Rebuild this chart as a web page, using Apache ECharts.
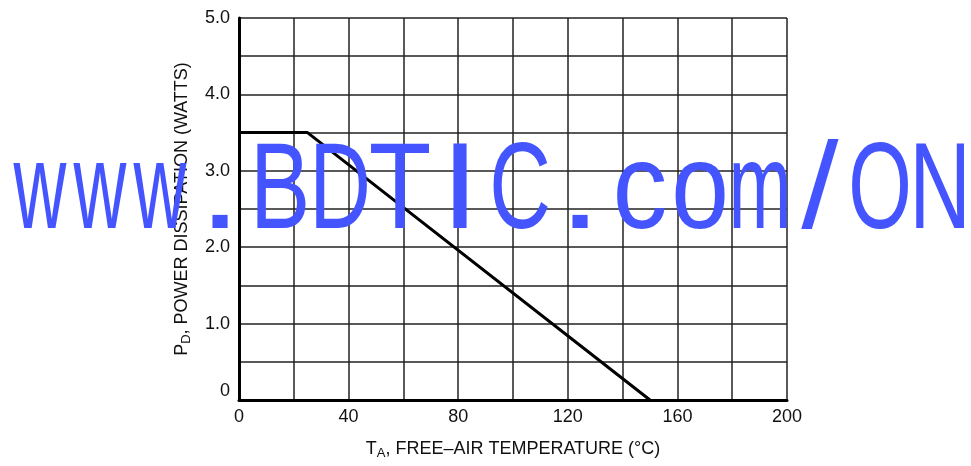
<!DOCTYPE html>
<html>
<head>
<meta charset="utf-8">
<script src="https://cdn.jsdelivr.net/npm/echarts@6/dist/echarts.min.js"></script>
<style>
html,body{margin:0;padding:0;background:#fff;}
#c{width:971px;height:466px;}
</style>
</head>
<body>
<div id="c"></div>
<script>
// ---- data ----
const tempC = [0, 25, 150];          // T_A (°C)
const powerW = [3.5, 3.5, 0];        // P_D (W)
const xLabelValues = [0, 40, 80, 120, 160, 200];
const yLabelValues = [0, 1, 2, 3, 4, 5];
const watermarkText = 'www.BDTIC.com/ON';
const watermarkScale = [0.6, 0.6, 0.6, 1.3, 0.74, 0.7, 0.84, 1.15, 0.7, 1.3, 0.9, 0.85, 0.62, 1.1, 0.67, 0.7];

const FONT = "'Liberation Sans', Arial, sans-serif";
const BLUE = '#4455ff';

const chart = echarts.init(document.getElementById('c'), null, {renderer: 'canvas'});

const wm = [];
for (let i = 0; i < watermarkText.length; i++) {
  wm.push({
    type: 'text',
    x: 40 + 60 * i,
    y: 194,
    scaleX: watermarkScale[i],
    z: 100,
    silent: true,
    style: {
      text: watermarkText[i],
      x: 0, y: 0,
      fill: BLUE,
      fontSize: 122,
      fontFamily: 'Liberation Sans',
      fontWeight: 'normal',
      textAlign: 'center',
      textVerticalAlign: 'middle'
    }
  });
}

const option = {
  animation: false,
  backgroundColor: '#fff',
  grid: {left: 239, right: 184, top: 18, bottom: 66, containLabel: false},
  xAxis: {
    type: 'value',
    min: 0, max: 200, interval: 20,
    name: '{t|T}{s|A}{t|, FREE–AIR TEMPERATURE (°C)}',
    nameLocation: 'middle',
    nameGap: 38,
    nameTextStyle: {
      rich: {
        t: {fontFamily: FONT, fontSize: 18, color: '#111'},
        s: {fontFamily: FONT, fontSize: 13, color: '#111', padding: [9, 0, 0, 0]}
      }
    },
    axisLine: {show: true, lineStyle: {color: '#000', width: 3}},
    axisTick: {show: false},
    splitLine: {show: true, lineStyle: {color: '#222', width: 1.5}},
    axisLabel: {
      margin: 8,
      fontFamily: FONT, fontSize: 18, color: '#111',
      formatter: v => xLabelValues.indexOf(v) >= 0 ? String(v) : ''
    }
  },
  yAxis: {
    type: 'value',
    min: 0, max: 5, interval: 0.5,
    name: '{t|P}{s|D}{t|, POWER DISSIPATION (WATTS)}',
    nameLocation: 'middle',
    nameGap: 46,
    nameRotate: 90,
    nameTextStyle: {
      rich: {
        t: {fontFamily: FONT, fontSize: 18, color: '#111'},
        s: {fontFamily: FONT, fontSize: 13, color: '#111', padding: [9, 0, 0, 0]}
      }
    },
    axisLine: {show: true, lineStyle: {color: '#000', width: 3}},
    axisTick: {show: false},
    splitLine: {show: true, lineStyle: {color: '#222', width: 1.5}},
    axisLabel: {
      margin: 9,
      fontFamily: FONT, fontSize: 18, color: '#111',
      formatter: v => {
        if (yLabelValues.indexOf(v) < 0) return '';
        return v === 0 ? '{z|0}' : v.toFixed(1);
      },
      rich: {z: {fontFamily: FONT, fontSize: 18, color: '#111', padding: [0, 0, 18, 0]}}
    }
  },
  series: [{
    type: 'line',
    data: tempC.map((t, i) => [t, powerW[i]]),
    showSymbol: false,
    symbol: 'none',
    lineStyle: {color: '#000', width: 3},
    z: 5
  }],
  graphic: wm
};
chart.setOption(option);
</script>
</body>
</html>
